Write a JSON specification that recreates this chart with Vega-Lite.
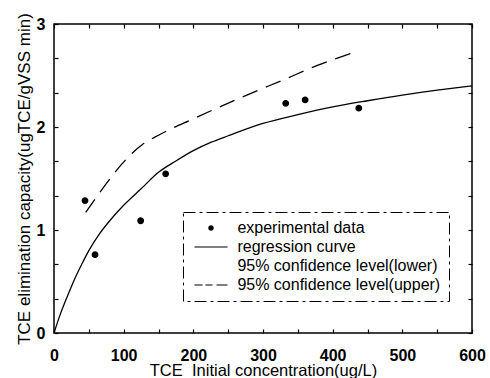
{
  "$schema": "https://vega.github.io/schema/vega-lite/v6.json",
  "width": 418,
  "height": 309,
  "autosize": "none",
  "padding": {"left": 54, "top": 24, "right": 18, "bottom": 45},
  "background": "white",
  "config": {
    "view": {"stroke": "black", "strokeWidth": 1.5},
    "font": "Liberation Sans",
    "axis": {
      "domain": false,
      "grid": false,
      "offset": -4,
      "tickColor": "black",
      "tickSize": 4,
      "tickWidth": 1.2,
      "labelColor": "black",
      "labelFont": "Liberation Sans",
      "labelFontSize": 16,
      "labelFontWeight": "bold",
      "labelOverlap": false,
      "labelFlush": false,
      "titleColor": "black",
      "titleFont": "Liberation Sans",
      "titleFontSize": 16.5,
      "titleFontWeight": "normal"
    },
    "legend": {
      "strokeDash": [12, 4, 3, 4],
      "symbolStrokeColor": "black",
      "symbolStrokeWidth": 1.3
    }
  },
  "datasets": {
    "curve": [
      {"x": 0, "y": 0}, {"x": 10, "y": 0.2}, {"x": 20, "y": 0.37}, {"x": 30, "y": 0.53},
      {"x": 40, "y": 0.67}, {"x": 50, "y": 0.8}, {"x": 65, "y": 0.96}, {"x": 80, "y": 1.09},
      {"x": 100, "y": 1.24}, {"x": 125, "y": 1.4}, {"x": 150, "y": 1.56}, {"x": 175, "y": 1.67},
      {"x": 200, "y": 1.77}, {"x": 225, "y": 1.85}, {"x": 250, "y": 1.915}, {"x": 300, "y": 2.035},
      {"x": 350, "y": 2.12}, {"x": 400, "y": 2.195}, {"x": 450, "y": 2.255}, {"x": 500, "y": 2.31},
      {"x": 550, "y": 2.358}, {"x": 600, "y": 2.4}
    ],
    "upper": [
      {"x": 45.5, "y": 1.17}, {"x": 127, "y": 1.83}, {"x": 150, "y": 1.92}, {"x": 200, "y": 2.08},
      {"x": 270, "y": 2.29}, {"x": 330, "y": 2.46}, {"x": 379, "y": 2.6}, {"x": 437, "y": 2.74}
    ],
    "points": [
      {"x": 44.5, "y": 1.285, "series": "experimental data"},
      {"x": 58.9, "y": 0.76, "series": "experimental data"},
      {"x": 124.4, "y": 1.09, "series": "experimental data"},
      {"x": 160.3, "y": 1.545, "series": "experimental data"},
      {"x": 332.6, "y": 2.23, "series": "experimental data"},
      {"x": 360.5, "y": 2.263, "series": "experimental data"},
      {"x": 437.5, "y": 2.183, "series": "experimental data"}
    ]
  },
  "layer": [
    {
      "data": {"name": "curve"},
      "mark": {"type": "line", "color": "black", "strokeWidth": 1.3, "interpolate": "monotone"},
      "encoding": {
        "x": {
          "field": "x", "type": "quantitative",
          "scale": {"domain": [0, 600], "nice": false},
          "axis": {
            "orient": "bottom",
            "values": [0, 50, 100, 150, 200, 250, 300, 350, 400, 450, 500, 550, 600],
            "labelExpr": "datum.value % 100 == 0 ? datum.label : ''",
            "labelPadding": 14,
            "title": "TCE\u00a0 Initial concentration(ug/L)",
            "titleX": 209,
            "titleY": 46,
            "titleBaseline": "alphabetic"
          }
        },
        "y": {
          "field": "y", "type": "quantitative",
          "scale": {"domain": [0, 3], "nice": false},
          "axis": {
            "orient": "left",
            "values": [0, 0.3333, 0.6667, 1, 1.3333, 1.6667, 2, 2.3333, 2.6667, 3],
            "labelExpr": "abs(datum.value - round(datum.value)) < 0.01 ? format(datum.value, 'd') : ''",
            "labelPadding": 9,
            "title": "TCE elimination capacity(ugTCE/gVSS min)",
            "titleFontSize": 17,
            "titleX": -34,
            "titleY": 154.5,
            "titleBaseline": "middle"
          }
        }
      }
    },
    {
      "data": {"name": "upper"},
      "mark": {"type": "line", "color": "black", "strokeWidth": 1.3, "strokeDash": [16, 9], "interpolate": "monotone"},
      "encoding": {
        "x": {
          "field": "x", "type": "quantitative",
          "axis": {
            "orient": "top",
            "values": [0, 50, 100, 150, 200, 250, 300, 350, 400, 450, 500, 550, 600],
            "labels": false,
            "title": null
          }
        },
        "y": {
          "field": "y", "type": "quantitative",
          "axis": {
            "orient": "right",
            "values": [0, 0.3333, 0.6667, 1, 1.3333, 1.6667, 2, 2.3333, 2.6667, 3],
            "labels": false,
            "title": null
          }
        }
      }
    },
    {
      "data": {"name": "points"},
      "mark": {"type": "point", "filled": false, "fill": "black", "stroke": "black", "strokeWidth": 1.3, "opacity": 1, "fillOpacity": 1, "strokeOpacity": 1, "size": 100},
      "encoding": {
        "x": {"field": "x", "type": "quantitative", "axis": null},
        "y": {"field": "y", "type": "quantitative", "axis": null},
        "shape": {
          "field": "series", "type": "nominal",
          "scale": {
            "domain": ["experimental data", "regression curve", "95% confidence level(lower)", "95% confidence level(upper)"],
            "range": [
              "M-0.55,0A0.55,0.55 0 1,0 0.55,0A0.55,0.55 0 1,0 -0.55,0Z",
              "M-3.3,-0.1L3.3,-0.1L3.3,0.1L-3.3,0.1Z",
              "M0,0",
              "M-3.3,-0.1L-1.7,-0.1L-1.7,0.1L-3.3,0.1ZM-1.1,-0.1L0.3,-0.1L0.3,0.1L-1.1,0.1ZM1.1,-0.1L3.3,-0.1L3.3,0.1L1.1,0.1Z"
            ]
          },
          "legend": {
            "orient": "none",
            "legendX": 129,
            "legendY": 188,
            "title": null,
            "strokeColor": "black",
            "padding": 8,
            "labelFont": "Liberation Sans",
            "labelFontSize": 16,
            "labelColor": "black",
            "labelOffset": 18.4,
            "symbolOffset": 12,
            "rowPadding": 3,
            "symbolSize": 100,
            "symbolStrokeColor": "black",
            "symbolFillColor": "black",
            "symbolStrokeWidth": 1.3,
            "labelLimit": 400
          }
        }
      }
    }
  ],
  "resolve": {"axis": {"x": "independent", "y": "independent"}}
}
